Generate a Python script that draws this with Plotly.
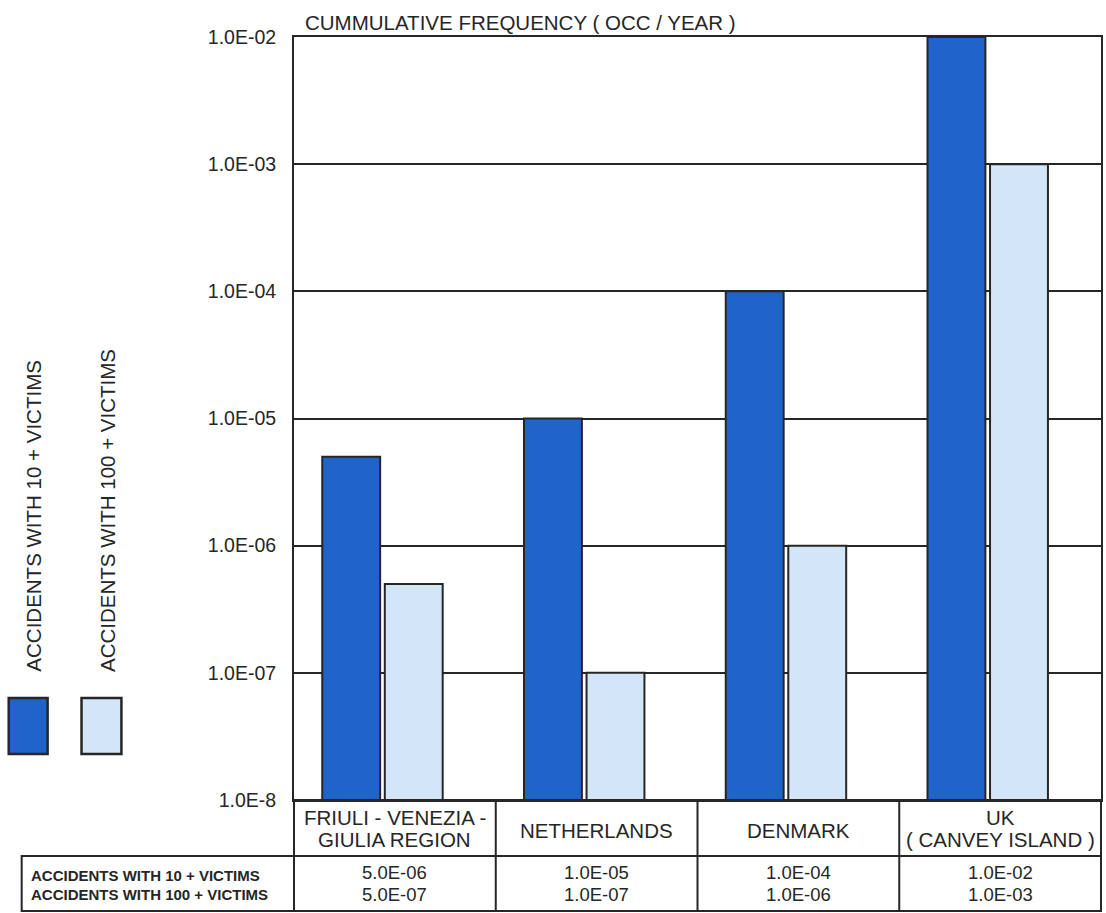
import plotly.graph_objects as go

# ---------------- data ----------------
categories = ["FRIULI - VENEZIA -<br>GIULIA REGION", "NETHERLANDS", "DENMARK", "UK<br>( CANVEY ISLAND )"]
series_names = ["ACCIDENTS WITH 10 + VICTIMS", "ACCIDENTS WITH 100 + VICTIMS"]
acc_10 = [5.0e-06, 1.0e-05, 1.0e-04, 1.0e-02]
acc_100 = [5.0e-07, 1.0e-07, 1.0e-06, 1.0e-03]
tick_vals = [1e-2, 1e-3, 1e-4, 1e-5, 1e-6, 1e-7, 1e-8]
tick_text = ["1.0E-02", "1.0E-03", "1.0E-04", "1.0E-05", "1.0E-06", "1.0E-07", "1.0E-8"]
title_text = "CUMMULATIVE FREQUENCY ( OCC / YEAR )"

# ---------------- style ----------------
W, H = 1106, 913
L, R, T, B = 294, 1103, 37, 800
FONT = "Liberation Sans, Arial, sans-serif"
INK = "#262626"
DARK = "#1f64c8"
LIGHT = "#d2e6f8"

def px(x):
    return (x - L) / (R - L)

def py(y):
    return (B - y) / (B - T)

xs = list(range(len(categories)))

fig = go.Figure()
fig.add_trace(go.Bar(x=xs, y=acc_10, width=0.287, offset=-0.36, name=series_names[0],
                     marker=dict(color=DARK, line=dict(color=INK, width=2))))
fig.add_trace(go.Bar(x=xs, y=acc_100, width=0.287, offset=-0.05, name=series_names[1],
                     marker=dict(color=LIGHT, line=dict(color=INK, width=2))))

ROW1, ROW2 = 856, 911
shapes = []
shapes.append(dict(type="rect", xref="paper", yref="paper", x0=0, x1=1, y0=py(ROW1), y1=0,
                   line=dict(color=INK, width=2)))
shapes.append(dict(type="rect", xref="paper", yref="paper", x0=px(21), x1=1, y0=py(ROW2), y1=py(ROW1),
                   line=dict(color=INK, width=2)))
for i in range(len(categories) - 1):
    shapes.append(dict(type="line", xref="x", yref="paper", x0=i + 0.5, x1=i + 0.5,
                       y0=py(ROW2), y1=0, line=dict(color=INK, width=2)))
shapes.append(dict(type="line", xref="paper", yref="paper", x0=0, x1=0,
                   y0=py(ROW2), y1=0, line=dict(color=INK, width=2)))
for (x0, x1), col in zip([(8, 47), (81, 121)], [DARK, LIGHT]):
    shapes.append(dict(type="rect", xref="paper", yref="paper", x0=px(x0), x1=px(x1),
                       y0=py(754), y1=py(698), fillcolor=col, line=dict(color=INK, width=2.5)))

annotations = []
annotations.append(dict(text=title_text, xref="paper", yref="paper", x=px(303), y=py(22),
                        xanchor="left", yanchor="middle", showarrow=False,
                        font=dict(size=20.5, color=INK, family=FONT)))
for i, c in enumerate(categories):
    lines = c.split("<br>")
    ys = [830] if len(lines) == 1 else [817, 839]
    for ln, yy in zip(lines, ys):
        annotations.append(dict(text=ln, xref="x", yref="paper", x=i, y=py(yy),
                                xanchor="center", yanchor="middle", showarrow=False, borderpad=0,
                                font=dict(size=20.5, color=INK, family=FONT)))
    for v, yy in zip([acc_10[i], acc_100[i]], [872.5, 894]):
        annotations.append(dict(text=f"{v:.1E}", xref="x", yref="paper", x=i, y=py(yy),
                                xanchor="center", yanchor="middle", showarrow=False, borderpad=0,
                                font=dict(size=18.5, color=INK, family=FONT)))
for name, yy in zip(series_names, [875, 894]):
    annotations.append(dict(text=f"<b>{name}</b>", xref="paper", yref="paper", x=px(29), y=py(yy),
                            xanchor="left", yanchor="middle", showarrow=False, borderpad=0,
                            font=dict(size=15, color=INK, family=FONT)))
for xc, name in zip([32, 107], series_names):
    annotations.append(dict(text=name, xref="paper", yref="paper", x=px(xc), y=py(674),
                            xanchor="center", yanchor="bottom", textangle=-90, showarrow=False,
                            font=dict(size=20.5, color=INK, family=FONT)))

fig.update_layout(
    width=W, height=H,
    margin=dict(l=L, r=W - R, t=T, b=H - B),
    paper_bgcolor="white", plot_bgcolor="white",
    barmode="overlay", showlegend=False,
    font=dict(family=FONT, color=INK),
    shapes=shapes, annotations=annotations,
)
fig.update_xaxes(range=[-0.5, 3.5], showticklabels=False, showgrid=False, zeroline=False,
                 showline=True, mirror=True, linecolor=INK, linewidth=2, fixedrange=True)
fig.update_yaxes(type="log", range=[-8, -2], tickvals=tick_vals, ticktext=tick_text,
                 showgrid=True, gridcolor=INK, gridwidth=1.5, zeroline=False,
                 showline=True, mirror=True, linecolor=INK, linewidth=2,
                 ticks="", ticklabelstandoff=12,
                 tickfont=dict(size=19.5, color=INK, family=FONT))

fig.write_html("out.html")
